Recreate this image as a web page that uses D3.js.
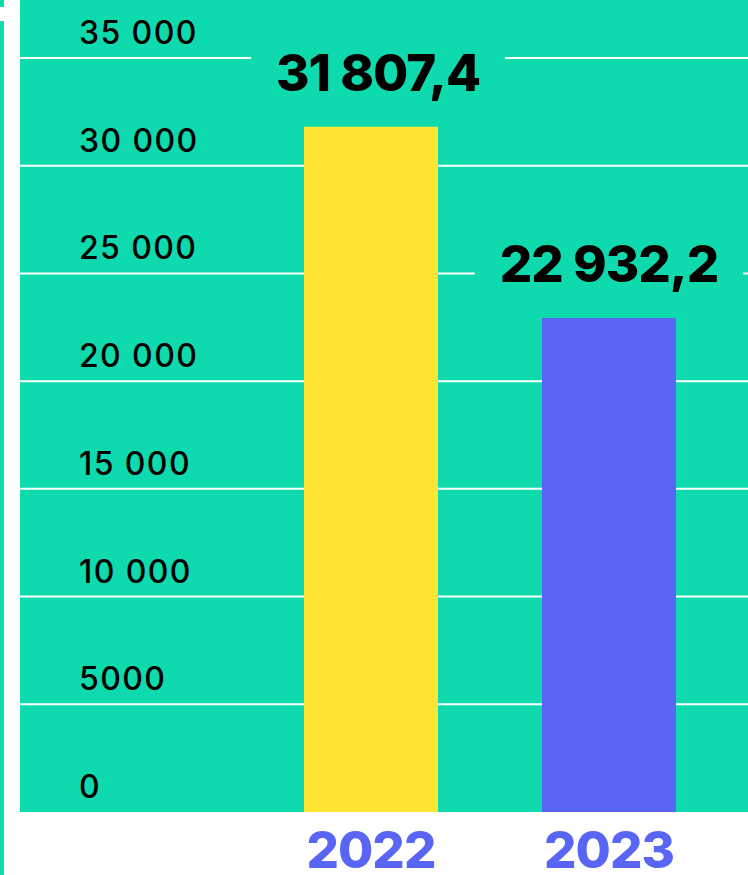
<!DOCTYPE html>
<html>
<head>
<meta charset="utf-8">
<script src="https://cdn.jsdelivr.net/npm/d3@7"></script>
<style>
  html, body { margin: 0; padding: 0; background: #ffffff; }
  svg { display: block; }
</style>
</head>
<body>
<svg id="chart" width="748" height="875"></svg>
<script>
// ---- data ----
const categories = ["2022", "2023"];
const values = [31807.4, 22932.2];
const valueLabels = ["31 807,4", "22 932,2"];
const tickValues = [0, 5000, 10000, 15000, 20000, 25000, 30000, 35000];
const tickLabels = ["0", "5000", "10 000", "15 000", "20 000", "25 000", "30 000", "35 000"];
const barColors = ["#FFE533", "#5865F5"];

// ---- styles / layout ----
const W = 748, H = 875;
const plotLeft = 20, plotRight = 748, plotTop = 0, plotBottom = 812;
const bg = "#0EDAAE";
const svg = d3.select("#chart");

const y = d3.scaleLinear().domain([0, 35000]).range([plotBottom, 58]);
const x = d3.scaleBand().domain(categories).range([252, 728])
  .paddingInner(0.437).paddingOuter(0.2185);

// left accent line
svg.append("rect").attr("x", 0).attr("y", 0).attr("width", 4).attr("height", 7).attr("fill", bg);
svg.append("rect").attr("x", 0).attr("y", 21).attr("width", 4).attr("height", H - 21).attr("fill", bg);

// plot background
svg.append("rect").attr("x", plotLeft).attr("y", plotTop)
  .attr("width", plotRight - plotLeft).attr("height", plotBottom - plotTop).attr("fill", bg);

// gridlines
svg.append("g").selectAll("line").data(tickValues.filter(d => d > 0)).join("line")
  .attr("x1", plotLeft).attr("x2", plotRight)
  .attr("y1", d => y(d)).attr("y2", d => y(d))
  .attr("stroke", "#ffffff").attr("stroke-width", 2);

// tick labels
svg.append("g").selectAll("text").data(tickValues).join("text")
  .attr("x", 79).attr("y", d => y(d) - 14)
  .attr("font-family", "Inter, 'Noto Sans', sans-serif")
  .attr("font-size", 32).attr("letter-spacing", 1.4)
  .attr("font-weight", 450)
  .attr("fill", "#000000")
  .text((d, i) => tickLabels[i]);

// bars
svg.append("g").selectAll("rect").data(values).join("rect")
  .attr("x", (d, i) => x(categories[i]))
  .attr("y", d => y(d))
  .attr("width", x.bandwidth())
  .attr("height", d => y(0) - y(d))
  .attr("fill", (d, i) => barColors[i]);

// value labels with background masking gridlines
const lbl = svg.append("g").selectAll("g").data(values).join("g");
const lblText = lbl.append("text")
  .attr("x", (d, i) => x(categories[i]) + x.bandwidth() / 2 + (i === 0 ? 7 : 0))
  .attr("y", d => y(d) - 36)
  .attr("text-anchor", "middle")
  .attr("font-family", "Inter, 'Noto Sans', sans-serif")
  .attr("font-weight", 800)
  .attr("font-size", 51).attr("letter-spacing", -1)
  .attr("fill", "#000000")
  .text((d, i) => valueLabels[i]);
lblText.each(function () {
  const b = this.getBBox();
  d3.select(this.parentNode).insert("rect", "text")
    .attr("x", b.x - 25).attr("y", b.y)
    .attr("width", b.width + 50).attr("height", b.height)
    .attr("fill", bg);
});

// category labels
svg.append("g").selectAll("text").data(categories).join("text")
  .attr("x", d => x(d) + x.bandwidth() / 2)
  .attr("y", 868)
  .attr("text-anchor", "middle")
  .attr("font-family", "Inter, 'Noto Sans', sans-serif")
  .attr("font-weight", 800)
  .attr("font-size", 51).attr("letter-spacing", -1)
  .attr("fill", "#5865F5")
  .text(d => d);
</script>
</body>
</html>
